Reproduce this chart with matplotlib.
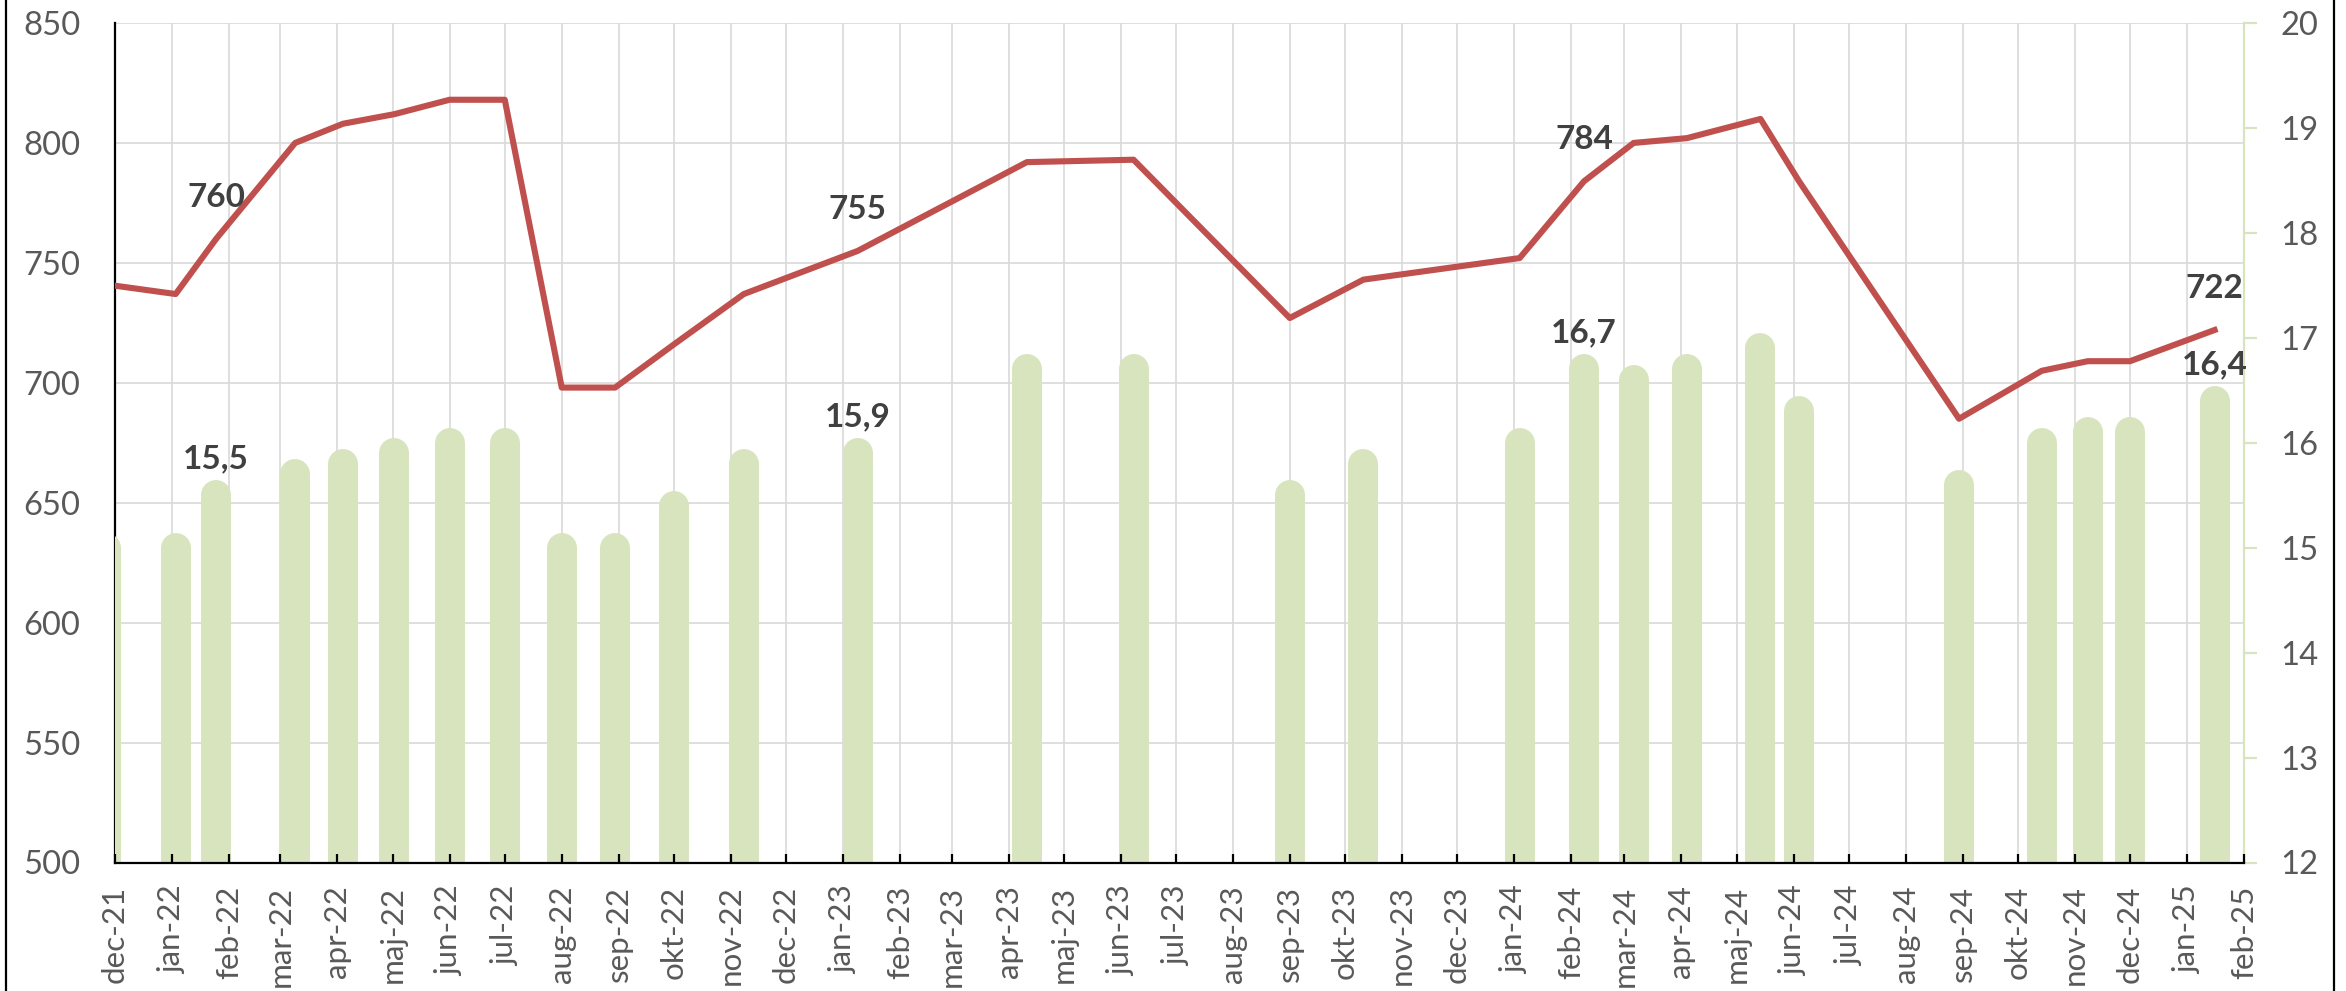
import matplotlib
matplotlib.use("Agg")
import matplotlib.pyplot as plt
from matplotlib.lines import Line2D
from datetime import date

plt.rcParams['font.family'] = ['Lato', 'DejaVu Sans']

# observationer: dato, pris (venstre akse) og vaegt (hoejre akse)
datoer = [date(2021, 11, 26), date(2022, 1, 3), date(2022, 1, 25), date(2022, 3, 9),
          date(2022, 4, 4), date(2022, 5, 2), date(2022, 6, 1), date(2022, 7, 1),
          date(2022, 8, 1), date(2022, 8, 30), date(2022, 10, 1), date(2022, 11, 8),
          date(2023, 1, 9), date(2023, 4, 11), date(2023, 6, 8), date(2023, 9, 1),
          date(2023, 10, 11), date(2024, 1, 4), date(2024, 2, 8), date(2024, 3, 6),
          date(2024, 4, 4), date(2024, 5, 14), date(2024, 6, 4), date(2024, 8, 30),
          date(2024, 10, 14), date(2024, 11, 8), date(2024, 12, 1), date(2025, 1, 16)]
pris = [741, 737, 760, 800, 808, 812, 818, 818, 698, 698, 716, 737, 755, 792,
        793, 727, 743, 752, 784, 800, 802, 810, 784, 685, 705, 709, 709, 722]
vaegt = [15.0, 15.0, 15.5, 15.7, 15.8, 15.9, 16.0, 16.0, 15.0, 15.0, 15.4, 15.8,
         15.9, 16.7, 16.7, 15.5, 15.8, 16.0, 16.7, 16.6, 16.7, 16.9, 16.3, 15.6,
         16.0, 16.1, 16.1, 16.4]
vis_etiket = [2, 12, 18, 27]

maaneder = ['jan', 'feb', 'mar', 'apr', 'maj', 'jun', 'jul', 'aug', 'sep', 'okt', 'nov', 'dec']
start = date(2021, 12, 1)
slut = date(2025, 2, 1)

ticks = []
y, m = start.year, start.month
while date(y, m, 1) <= slut:
    ticks.append(date(y, m, 1))
    m += 1
    if m > 12:
        m = 1
        y += 1
tick_labels = [f"{maaneder[d.month - 1]}-{d.year % 100:02d}" for d in ticks]

GRAA = '#595959'
MORK = '#404040'
ROD = '#C0504D'
GRON = '#D7E4BD'

fig = plt.figure(figsize=(11.73, 4.955), dpi=200)
ax = fig.add_axes([115 / 2346, 1 - 862.5 / 991, (2244 - 115) / 2346, (862.5 - 23) / 991])
ax2 = ax.twinx()
ax3 = ax.twinx()
ax.set_zorder(0)
ax2.set_zorder(1)
ax3.set_zorder(2)

# baggrund: gitter og venstre akse
ax.set_xlim(start, slut)
ax.set_ylim(500, 850)
ax.set_yticks(range(500, 851, 50))
ax.grid(True, color='#D9D9D9', linewidth=0.6)
ax.set_axisbelow(True)
for s in ['top', 'right', 'bottom']:
    ax.spines[s].set_visible(False)
ax.spines['left'].set_color('black')
ax.spines['left'].set_linewidth(0.8)
ax.tick_params(axis='y', length=0, pad=12.5, labelsize=11.8, labelcolor=GRAA)
ax.tick_params(axis='x', length=0, labelbottom=False)

# soejler paa hoejre akse
ax2.vlines(datoer, 12, vaegt, colors=GRON, linewidth=10.8, capstyle='round')
ax2.set_ylim(12, 20)
ax2.set_yticks(range(12, 21))
for s in ['top', 'left', 'bottom']:
    ax2.spines[s].set_visible(False)
ax2.spines['right'].set_color(GRON)
ax2.spines['right'].set_linewidth(0.8)
ax2.tick_params(axis='y', direction='out', length=4.7, width=0.8, color=GRON,
                pad=8.5, labelsize=11.8, labelcolor=GRAA)
for i in vis_etiket:
    ax2.annotate(f"{vaegt[i]:.1f}".replace('.', ','), (datoer[i], vaegt[i]),
                 xytext=(0, 7.9), textcoords='offset points', ha='center', va='bottom',
                 fontsize=12, fontweight='bold', color=MORK)

# linje og x-akse
ax3.plot(datoer, pris, color=ROD, linewidth=2.2, solid_joinstyle='round')
ax3.set_ylim(500, 850)
ax3.yaxis.set_visible(False)
ax3.xaxis.set_visible(True)
ax3.set_xlim(start, slut)
ax3.set_xticks(ticks)
ax3.set_xticklabels(tick_labels, rotation=90)
ax3.tick_params(axis='x', direction='in', length=3.2, width=0.8, color='black',
                pad=8.3, labelsize=11.3, labelcolor=GRAA, labelbottom=True)
for s in ['top', 'left', 'right']:
    ax3.spines[s].set_visible(False)
ax3.spines['bottom'].set_visible(True)
ax3.spines['bottom'].set_color('black')
ax3.spines['bottom'].set_linewidth(0.8)
for i in vis_etiket:
    ax3.annotate(f"{pris[i]}", (datoer[i], pris[i]),
                 xytext=(0, 9.7), textcoords='offset points', ha='center', va='bottom',
                 fontsize=12, fontweight='bold', color=MORK)

# diagramramme
for xr in [6 / 2346, 2334 / 2346]:
    fig.add_artist(Line2D([xr, xr], [0, 1], transform=fig.transFigure, color='black', linewidth=0.8))

fig.savefig('out.png', dpi=200)
